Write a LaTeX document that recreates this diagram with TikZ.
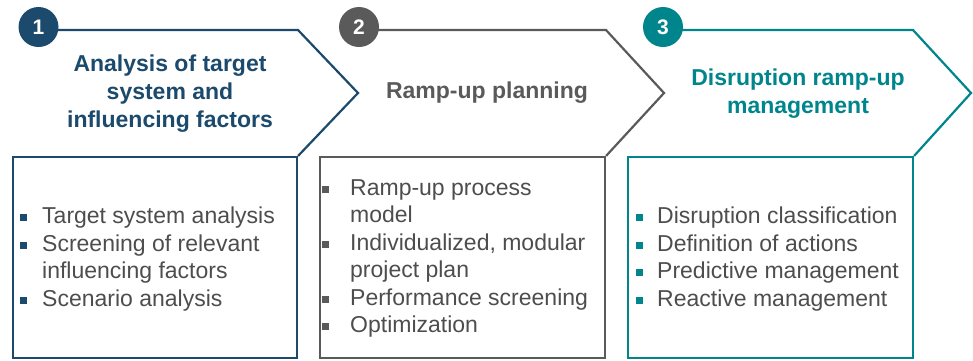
\documentclass[tikz,border=0pt]{standalone}
\usepackage{fontspec}
\setmainfont{Liberation Sans}
\definecolor{cblue}{HTML}{1B4A6C}
\definecolor{cgray}{HTML}{5A5A5A}
\definecolor{cteal}{HTML}{00858C}
\definecolor{ctext}{HTML}{4D4D4D}
\newcommand{\bul}[2]{\llap{\textcolor{#1}{\rule[2.5pt]{7pt}{7pt}}\hspace{#2}}}
\tikzset{
  frame/.style={draw=#1, line width=2.2pt, line join=miter},
  chev/.style={draw=#1, line width=2.2pt, line join=miter},
  badge/.style={circle, fill=#1, minimum size=40pt, inner sep=0pt, text=white,
    font=\fontsize{21}{21}\selectfont\bfseries},
  title/.style={text=#1, align=center, font=\fontsize{23}{28}\selectfont\bfseries, inner sep=0pt},
  items/.style={text=ctext, align=left, anchor=west, inner sep=0pt,
    font=\fontsize{23}{27.5}\selectfont}
}
\begin{document}
\begin{tikzpicture}[x=1pt,y=-1pt]
\useasboundingbox (0,0) rectangle (973,360);
% boxes
\node[frame=cblue, minimum width=284pt, minimum height=201pt, inner sep=0pt] (b1) at (155,257.5) {};
\node[frame=cgray, minimum width=285pt, minimum height=201pt, inner sep=0pt] (b2) at (462.5,257.5) {};
\node[frame=cteal, minimum width=285pt, minimum height=201pt, inner sep=0pt] (b3) at (770.5,257.5) {};
% chevron corners
\coordinate (s1) at (38,30); \coordinate (t1) at (298,30); \coordinate (p1) at (358,93);
\coordinate (s2) at (359,30); \coordinate (t2) at (606,30); \coordinate (p2) at (664,93);
\coordinate (s3) at (663,30); \coordinate (t3) at (913,30); \coordinate (p3) at (971,93);
\draw[chev=cblue] (s1) -- (t1) -- (p1) -- (b1.north east);
\draw[chev=cgray] (s2) -- (t2) -- (p2) -- (b2.north east);
\draw[chev=cteal] (s3) -- (t3) -- (p3) -- (b3.north east);
% badges
\node[badge=cblue] (c1) at (38.5,27) {1};
\node[badge=cgray] (c2) at (359,27) {2};
\node[badge=cteal] (c3) at (663,27) {3};
% titles
\node[title=cblue] (h1) at (170,94) {Analysis of target\\system and\\influencing factors};
\node[title=cgray] (h2) at (487,93) {Ramp-up planning};
\node[title=cteal] (h3) at (798,94) {Disruption ramp-up\\management};
% item lists
\node[items] (l1) at (42,259) {\bul{cblue}{15pt}Target system analysis\\
\bul{cblue}{15pt}Screening of relevant\\influencing factors\\
\bul{cblue}{15pt}Scenario analysis};
\node[items] (l2) at (350,258.5) {\bul{cgray}{21pt}Ramp-up process\\model\\
\bul{cgray}{21pt}Individualized, modular\\project plan\\
\bul{cgray}{21pt}Performance screening\\
\bul{cgray}{21pt}Optimization};
\node[items] (l3) at (657,259) {\bul{cteal}{14pt}Disruption classification\\
\bul{cteal}{14pt}Definition of actions\\
\bul{cteal}{14pt}Predictive management\\
\bul{cteal}{14pt}Reactive management};
\end{tikzpicture}
\end{document}
